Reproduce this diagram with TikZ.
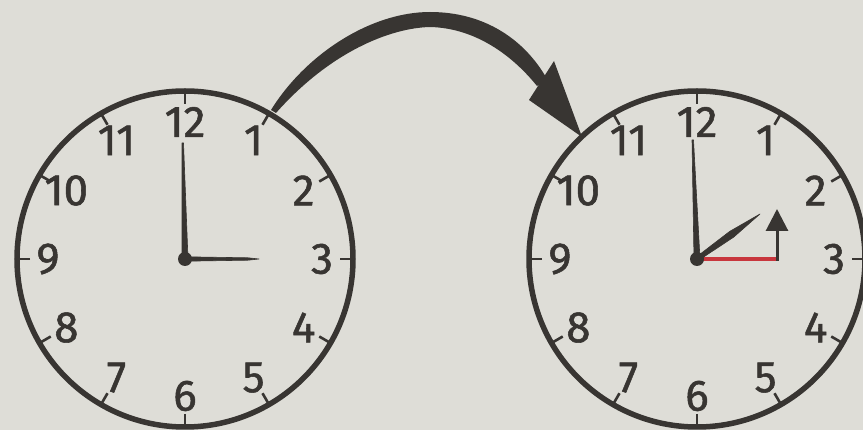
\documentclass[tikz,border=0pt]{standalone}
\usepackage{fontspec}
\setmainfont{Fira Sans}
\newfontfamily\clockfont{Fira Sans}[FakeBold=1.2]
\usetikzlibrary{calc,arrows.meta}
\definecolor{ink}{HTML}{383532}
\definecolor{paper}{HTML}{DEDDD7}
\definecolor{redhand}{HTML}{C8363D}
\begin{document}
\begin{tikzpicture}[x=1pt,y=-1pt,
  rim/.style={draw=ink, line width=5.5pt},
  ticks/.style={draw=ink, line width=2.6pt},
  num/.style={text=ink, font=\clockfont\fontsize{44}{44}\selectfont, inner sep=0pt},
  handfill/.style={fill=ink, draw=ink, line width=0.6pt, line join=round}]
\useasboundingbox (0,0) rectangle (863,430);
\fill[paper] (0,0) rectangle (863,430);
\clip (0,0) rectangle (863,430);
% clock faces
\foreach \cx/\p in {185/L, 697/R} {
  \coordinate (\p c) at (\cx,259);
  \draw[rim] (\p c) circle[radius=168pt];
  \foreach \h in {1,...,12} {
    \draw[ticks] ($(\p c)+({90-30*\h}:155pt)$) -- ($(\p c)+({90-30*\h}:168pt)$);
    \node[num] (\p\h) at ($(\p c)+({90-30*\h}:137pt)$) {\h};
  }
}
% left clock hands (3:00)
\fill[handfill] ($(Lc)+(-3,0)$) -- (182,143) -- (183.5,143) -- ($(Lc)+(3,0)$) -- cycle;
\fill[handfill] (185,256.8) -- (248,257.8) -- (259,259) -- (248,260.2) -- (185,261.2) -- cycle;
\fill[ink] (Lc) circle[radius=7pt];
% right clock hands
\coordinate (redend) at (777,259);
\coordinate (uptip) at (777,209);
\draw[redhand, line width=4pt] (Rc) -- (redend);
\draw[ink, line width=3pt, -{Triangle[width=22pt,length=22pt]}] ($(redend)+(0,2)$) -- (uptip);
\fill[handfill] ($(Rc)+(-3,0)$) -- (692,140) -- (693.5,140) -- ($(Rc)+(3,0)$) -- cycle;
\fill[handfill] (698.2,260.6) -- (733.7,237.1) -- (760,214) -- (729.7,231.4) -- (695.8,257.4) -- cycle;
\fill[ink] (Rc) circle[radius=7pt];
% big curved arrow from left clock to right clock
\fill[ink] (271,110) .. controls (305,55) and (370,12) .. (430,12)
  .. controls (485,12) and (525,40) .. (547,79)
  -- (537,86) .. controls (512,55) and (475,28) .. (430,27)
  .. controls (390,28) and (330,52) .. (276,113) -- cycle;
\coordinate (headtip) at (582,137);
\fill[ink] (529,100) -- (554,61) -- (headtip) -- cycle;
\end{tikzpicture}
\end{document}
